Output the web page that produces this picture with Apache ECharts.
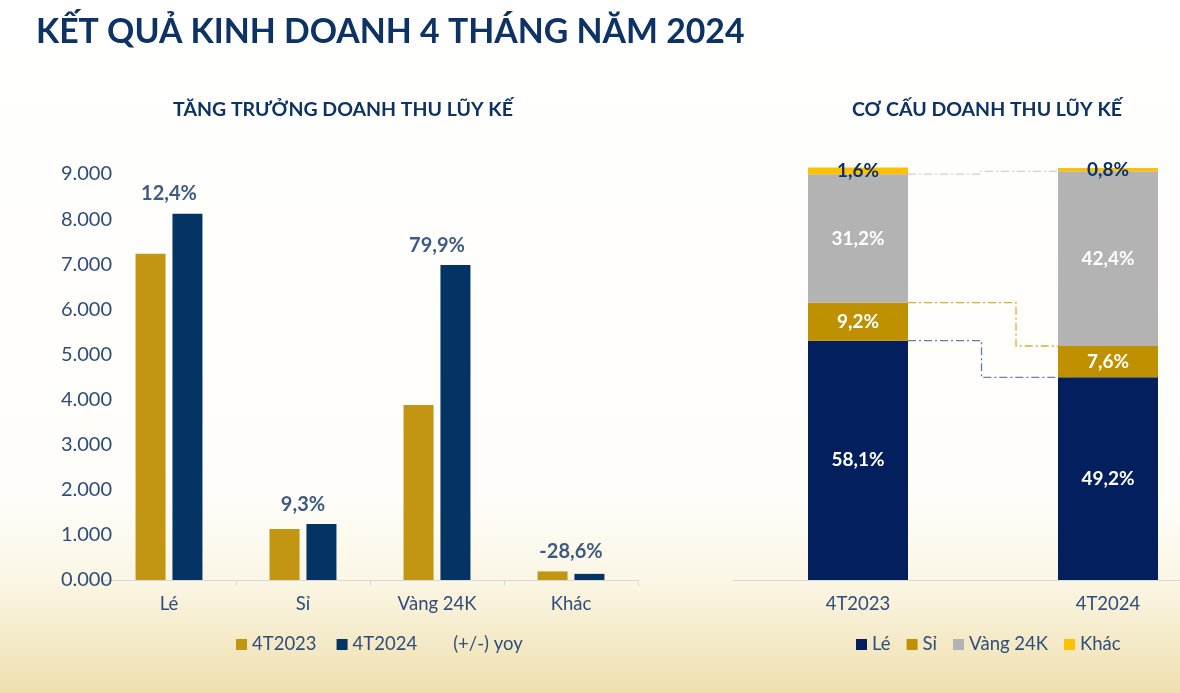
<!DOCTYPE html>
<html>
<head>
<meta charset="utf-8">
<script src="https://cdn.jsdelivr.net/npm/echarts@6/dist/echarts.min.js"></script>
<style>
html,body{margin:0;padding:0;width:1180px;height:693px;overflow:hidden;background:#fff;}
#chart{width:1180px;height:693px;}
</style>
</head>
<body>
<div id="chart"></div>
<script>
// ---- Data ----
const growthCategories = ['Lé', 'Sỉ', 'Vàng 24K', 'Khác'];
const revenue2023 = [7230, 1130, 3880, 190];
const revenue2024 = [8120, 1240, 6980, 136];
const yoyPct = [12.4, 9.3, 79.9, -28.6];
const yTickMax = 9000;
const yTickStep = 1000;

const structCategories = ['4T2023', '4T2024'];
const shareLe = [58.1, 49.2];
const shareSi = [9.2, 7.6];
const shareVang = [31.2, 42.4];
const shareKhac = [1.6, 0.8];

// ---- Styling ----
const FONT = 'Lato, "Open Sans", sans-serif';
const NAVY = '#0d3264';
const AXIS_TXT = '#2e4d7b';
const GOLD = '#c29512';
const BLUE = '#033463';
const C_LE = '#031f5e';
const C_SI = '#bf9000';
const C_VANG = '#b3b3b3';
const C_KHAC = '#ffc000';

const fmtPct = v => v.toFixed(1).replace('.', ',') + '%';
const yoyAnchor = revenue2023.map((v, i) => Math.max(v, revenue2024[i]));

const shareSeries = [shareLe, shareSi, shareVang, shareKhac];
function cumulative(level, col) {
  let s = 0;
  for (let k = 0; k <= level; k++) s += shareSeries[k][col];
  return s;
}
const connectorStyle = [
  {color: '#6a7ba5', frac: 0.49},
  {color: '#d9ad35', frac: 0.72},
  {color: '#cfcfcf', frac: 0.48}
];

const chart = echarts.init(document.getElementById('chart'));
const labelBase = {fontFamily: FONT, fontWeight: 'bold', fontSize: 19};
const stackBar = (name, data, color, txtColor) => ({
  name, type: 'bar', stack: 's', xAxisIndex: 1, yAxisIndex: 1, data,
  barWidth: 100, clip: false, itemStyle: {color},
  label: {show: true, position: 'inside', ...labelBase, color: txtColor, formatter: p => fmtPct(p.value)}
});

chart.setOption({
  animation: false,
  backgroundColor: {
    type: 'linear', x: 0, y: 0, x2: 0, y2: 1,
    colorStops: [
      {offset: 0, color: '#ffffff'},
      {offset: 0.72, color: '#fefdf9'},
      {offset: 0.84, color: '#fbf6e4'},
      {offset: 1, color: '#eedfae'}
    ]
  },
  title: [
    {text: 'KẾT QUẢ KINH DOANH 4 THÁNG NĂM 2024', left: 31, top: 10,
     textStyle: {fontFamily: FONT, fontWeight: 'bold', fontSize: 33.8, color: NAVY}},
    {text: 'TĂNG TRƯỞNG DOANH THU LŨY KẾ', left: 338, top: 95, textAlign: 'center',
     textStyle: {fontFamily: FONT, fontWeight: 'bold', fontSize: 19.5, color: NAVY}},
    {text: 'CƠ CẤU DOANH THU LŨY KẾ', left: 982, top: 95, textAlign: 'center',
     textStyle: {fontFamily: FONT, fontWeight: 'bold', fontSize: 19.5, color: NAVY}}
  ],
  legend: [
    {left: 231, top: 630, itemWidth: 11, itemHeight: 11, itemGap: 20,
     textStyle: {fontFamily: FONT, fontSize: 18.5, color: AXIS_TXT},
     data: [{name: '4T2023', icon: 'rect'}, {name: '4T2024', icon: 'rect'}, {name: '(+/-) yoy', icon: 'none'}]},
    {left: 851, top: 630, itemWidth: 11, itemHeight: 11, itemGap: 16,
     textStyle: {fontFamily: FONT, fontSize: 18.5, color: AXIS_TXT},
     data: [{name: 'Lé', icon: 'rect'}, {name: 'Sỉ', icon: 'rect'}, {name: 'Vàng 24K', icon: 'rect'}, {name: 'Khác', icon: 'rect'}]}
  ],
  grid: [
    {left: 102, top: 174, width: 536, height: 406},
    {left: 858, top: 168, width: 250, height: 412},
    {left: 733, top: 168, right: 0, height: 412}
  ],
  xAxis: [
    {type: 'category', gridIndex: 0, data: growthCategories,
     axisLine: {lineStyle: {color: '#d9d9d9'}},
     axisTick: {show: true, length: 6, lineStyle: {color: '#d9d9d9'}},
     axisLabel: {fontFamily: FONT, fontSize: 18.5, color: AXIS_TXT, margin: 15}},
    {type: 'category', gridIndex: 1, data: structCategories, boundaryGap: false,
     axisLine: {show: false}, axisTick: {show: false},
     axisLabel: {fontFamily: FONT, fontSize: 18.5, color: AXIS_TXT, margin: 15}},
    {type: 'category', gridIndex: 2, data: [''],
     axisLine: {lineStyle: {color: '#d9d9d9'}}, axisTick: {show: false}, axisLabel: {show: false}}
  ],
  yAxis: [
    {type: 'value', gridIndex: 0, min: 0, max: yTickMax, interval: yTickStep,
     splitLine: {show: false}, axisLine: {show: false}, axisTick: {show: false},
     axisLabel: {fontFamily: FONT, fontSize: 20, color: AXIS_TXT, margin: -10,
       formatter: v => (v / 1000).toFixed(3)}},
    {type: 'value', gridIndex: 1, min: 0, max: 100, show: false},
    {type: 'value', gridIndex: 2, min: 0, max: 100, show: false}
  ],
  series: [
    {name: '4T2023', type: 'bar', xAxisIndex: 0, yAxisIndex: 0, data: revenue2023,
     barWidth: 30, barGap: '23%', itemStyle: {color: GOLD}},
    {name: '4T2024', type: 'bar', xAxisIndex: 0, yAxisIndex: 0, data: revenue2024,
     barWidth: 30, barGap: '23%', itemStyle: {color: BLUE}},
    {name: '(+/-) yoy', type: 'scatter', xAxisIndex: 0, yAxisIndex: 0, symbolSize: 0,
     data: yoyAnchor.map((v, i) => ({value: v, pct: yoyPct[i]})),
     itemStyle: {color: 'transparent'},
     label: {show: true, position: 'top', distance: 10, ...labelBase, fontSize: 20, color: NAVY,
       formatter: p => fmtPct(p.data.pct)}},
    stackBar('Lé', shareLe, C_LE, '#fff'),
    stackBar('Sỉ', shareSi, C_SI, '#fff'),
    stackBar('Vàng 24K', shareVang, C_VANG, '#fff'),
    stackBar('Khác', shareKhac, C_KHAC, NAVY),
    {name: 'connectors', type: 'custom', xAxisIndex: 1, yAxisIndex: 1, z: 1, silent: true, clip: false,
     data: [[0, 0, 0], [0, 0, 1], [0, 0, 2]],
     renderItem: function (params, api) {
       const k = api.value(2);
       const st = connectorStyle[k];
       const p0 = api.coord([0, cumulative(k, 0)]);
       const p1 = api.coord([1, cumulative(k, 1)]);
       const xs = p0[0] + 50, xe = p1[0] - 50;
       const xm = xs + st.frac * (xe - xs);
       return {type: 'polyline',
         shape: {points: [[xs, p0[1]], [xm, p0[1]], [xm, p1[1]], [xe, p1[1]]]},
         style: {fill: null, stroke: st.color, lineWidth: 1.3, lineDash: [8, 3, 2, 3]}};
     }}
  ]
});
</script>
</body>
</html>
